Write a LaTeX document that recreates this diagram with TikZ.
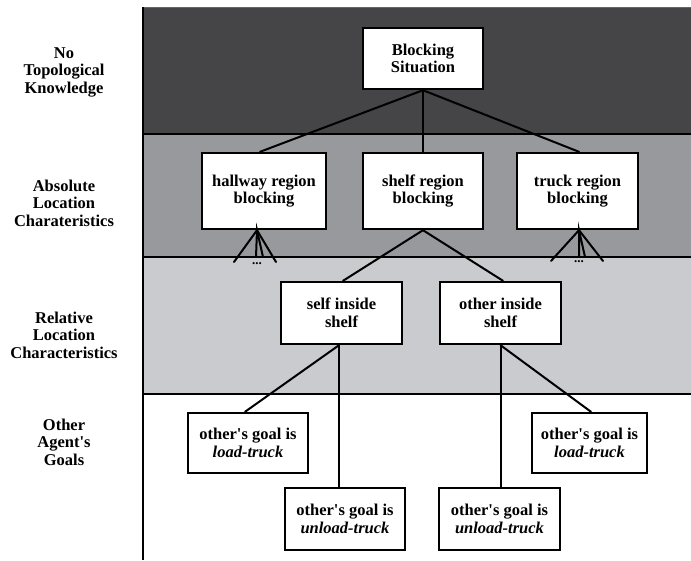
\documentclass[tikz,border=0pt]{standalone}
\usepackage{fontspec}
\setmainfont{Liberation Serif}
\definecolor{banddark}{RGB}{69,69,72}
\definecolor{bandmid}{RGB}{152,153,156}
\definecolor{bandlight}{RGB}{202,203,206}
\newcommand{\apos}{\textquotesingle}
\begin{document}
\begin{tikzpicture}[x=1pt,y=-1pt,
  every node/.style={font=\fontsize{16.5}{17.5}\selectfont\bfseries},
  box/.style={draw=black,fill=white,line width=2.4pt,align=center,inner sep=0pt},
  lbl/.style={align=center,inner sep=0pt},
  conn/.style={line width=2pt,line cap=round},
  band/.style={draw=black,line width=1.2pt},
  dots/.style={font=\fontsize{13}{13}\selectfont\bfseries,inner sep=0pt}]
\useasboundingbox (0,0) rectangle (691,560);
% bands
\fill[banddark] (143,7) rectangle (691,134);
\fill[bandmid] (143,134) rectangle (691,257);
\fill[bandlight] (143,257) rectangle (691,394);
\draw[line width=0.6pt,black!60] (143,7) -- (691,7);
\draw[band] (143,134) -- (691,134);
\draw[band] (143,257) -- (691,257);
\draw[band] (143,394) -- (691,394);
\draw[band] (143,7) -- (143,560);
% labels
\node[lbl] (l1) at (64,72) {No\\Topological\\Knowledge};
\node[lbl] (l2) at (64,203) {Absolute\\Location\\Charateristics};
\node[lbl] (l3) at (64,335) {Relative\\Location\\Characteristics};
\node[lbl] (l4) at (64,442) {Other\\Agent\apos s\\Goals};
% boxes
\node[box,minimum width=120pt,minimum height=61pt] (block) at (423,58.5) {Blocking\\Situation};
\node[box,minimum width=124pt,minimum height=76pt] (hall) at (264,191) {hallway region\\blocking};
\node[box,minimum width=120pt,minimum height=76pt] (shelf) at (423,191) {shelf region\\blocking};
\node[box,minimum width=121pt,minimum height=76pt] (truck) at (577.5,191) {truck region\\blocking};
\node[box,minimum width=121pt,minimum height=62pt] (self) at (341.5,313) {self inside\\shelf};
\node[box,minimum width=121pt,minimum height=62pt] (other) at (500.5,313) {other inside\\shelf};
\node[box,minimum width=120pt,minimum height=60pt] (load1) at (248,443) {other\apos s goal is\\\textit{load-truck}};
\node[box,minimum width=115pt,minimum height=60pt] (load2) at (589.5,443) {other\apos s goal is\\\textit{load-truck}};
\node[box,minimum width=120pt,minimum height=62pt] (unload1) at (345,519) {other\apos s goal is\\\textit{unload-truck}};
\node[box,minimum width=121pt,minimum height=62pt] (unload2) at (499.5,519) {other\apos s goal is\\\textit{unload-truck}};
% connectors
\draw[conn] (block.south) -- ([xshift=-4pt]hall.north);
\draw[conn] (block.south) -- (shelf.north);
\draw[conn] (block.south) -- ([xshift=1.5pt]truck.north);
\draw[conn] (shelf.south) -- ([xshift=1.5pt]self.north);
\draw[conn] (shelf.south) -- ([xshift=2.5pt]other.north);
\draw[conn] ([xshift=-2.5pt]self.south) -- ([xshift=-3pt]load1.north);
\draw[conn] ([xshift=-2.5pt]self.south) -- ([xshift=-2.5pt]self.south |- unload1.north);
\draw[conn] (other.south) -- (other.south |- unload2.north);
\draw[conn] (other.south) -- ([xshift=1.5pt]load2.north);
% fans of further children
\coordinate (ha) at ([xshift=-7pt]hall.south);
\coordinate (ha1) at (234,262);
\coordinate (ha2) at (256,257);
\coordinate (ha3) at (263,257);
\coordinate (ha4) at (276,262);
\draw[conn] (ha1) -- (ha) -- (ha4);
\draw[conn] (ha2) -- (ha) -- (ha3);
\node[dots] (hd) at (257,264) {...};
\coordinate (ta) at ([xshift=1.5pt]truck.south);
\coordinate (ta1) at (551,261);
\coordinate (ta2) at (579,257);
\coordinate (ta3) at (585,257);
\coordinate (ta4) at (603,261);
\draw[conn] (ta1) -- (ta) -- (ta4);
\draw[conn] (ta2) -- (ta) -- (ta3);
\node[dots] (td) at (579,262) {...};
\end{tikzpicture}
\end{document}
